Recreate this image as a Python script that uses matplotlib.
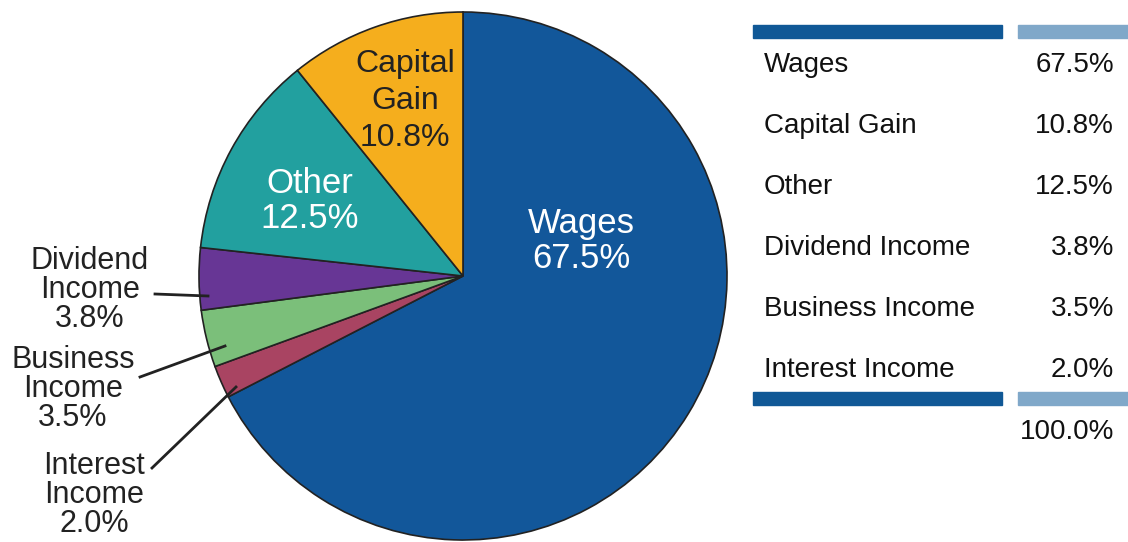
import matplotlib
matplotlib.use("Agg")
import matplotlib.pyplot as plt
from matplotlib.lines import Line2D
from matplotlib.patches import Rectangle

plt.rcParams['font.family'] = ['Liberation Sans', 'DejaVu Sans']

categories = ["Wages", "Interest Income", "Business Income", "Dividend Income", "Other", "Capital Gain"]
values = [67.5, 2.0, 3.5, 3.8, 12.5, 10.8]
colors = ["#12579A", "#A94462", "#7BBF7A", "#673695", "#22A09F", "#F5AE1D"]

table_labels = ["Wages", "Capital Gain", "Other", "Dividend Income", "Business Income", "Interest Income"]
table_values = [67.5, 10.8, 12.5, 3.8, 3.5, 2.0]
total_label = "100.0%"

W, H = 1128, 542
fig = plt.figure(figsize=(W / 100, H / 100), dpi=100)


def fx(x):
    return x / W


def fy(y):
    return 1 - y / H


# pie
cx, cy, r = 463, 276, 264
ax = fig.add_axes([fx(cx - r), fy(cy + r), 2 * r / W, 2 * r / H])
ax.pie(values, colors=colors, startangle=90, counterclock=False, radius=1,
       wedgeprops=dict(edgecolor="#222222", linewidth=1.2))
ax.set_xlim(-1, 1)
ax.set_ylim(-1, 1)
ax.set_aspect("equal")
ax.axis("off")

txt = "#222222"

# inside labels
inside = [
    (581, 241, "white", "Wages\n67.5%", 25, 1.05),
    (310, 201, "white", "Other\n12.5%", 25, 1.05),
    (405, 101, txt, "Capital\nGain\n10.8%", 23, 1.3),
]
for x, y, c, t, fs, ls in inside:
    fig.text(fx(x), fy(y), t, color=c, fontsize=fs, ha="center", va="center",
             linespacing=ls)

# outside labels
outside = [
    (90, 290, "Dividend\nIncome\n3.8%", (155, 294), (208, 296)),
    (73, 389, "Business\nIncome\n3.5%", (140, 377), (225, 346)),
    (94, 495, "Interest\nIncome\n2.0%", (152, 468), (236, 387)),
]
for x, y, t, p0, p1 in outside:
    fig.text(fx(x), fy(y), t, color=txt, fontsize=22, ha="center", va="center",
             linespacing=0.95)
    fig.add_artist(Line2D([fx(p0[0]), fx(p1[0])], [fy(p0[1]), fy(p1[1])],
                          color=txt, linewidth=2, transform=fig.transFigure))

# table
dark = "#105896"
light = "#80A8C9"
for ytop in (25, 392):
    fig.add_artist(Rectangle((fx(753), fy(ytop + 13)), fx(1002) - fx(753), 13 / H,
                             color=dark, transform=fig.transFigure))
    fig.add_artist(Rectangle((fx(1018), fy(ytop + 13)), fx(1128) - fx(1018), 13 / H,
                             color=light, transform=fig.transFigure))

row_y0, row_dy = 65, 61
for i, (lab, v) in enumerate(zip(table_labels, table_values)):
    y = row_y0 + i * row_dy
    fig.text(fx(764), fy(y), lab, fontsize=20, ha="left", va="center", color="#111111")
    fig.text(fx(1114), fy(y), f"{v:.1f}%", fontsize=20, ha="right", va="center", color="#111111")
fig.text(fx(1114), fy(432), total_label, fontsize=20, ha="right", va="center", color="#111111")

fig.savefig("out.png", dpi=100)
